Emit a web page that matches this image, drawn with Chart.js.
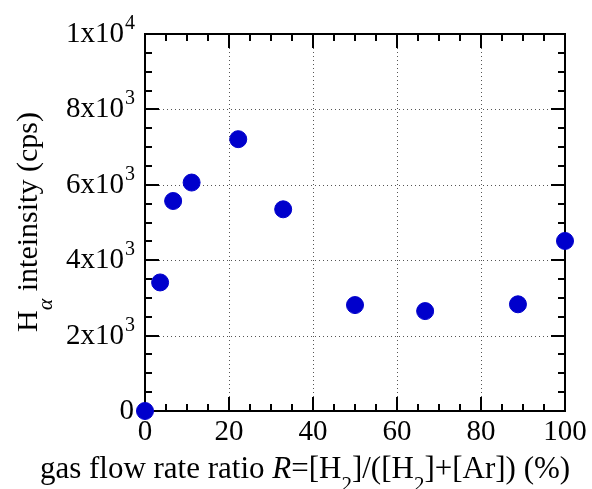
<!DOCTYPE html>
<html>
<head>
<meta charset="utf-8">
<script src="https://cdn.jsdelivr.net/npm/chart.js@4/dist/chart.umd.min.js"></script>
<style>
  html, body { margin: 0; padding: 0; background: #fff; }
  #wrap { width: 592px; height: 489px; }
</style>
</head>
<body>
<div id="wrap"><canvas id="myChart" width="592" height="489"></canvas></div>
<script>
// gas flow rate ratio R (%)
const ratioValues = [0, 3.6, 6.7, 11.1, 22.2, 32.9, 50, 66.7, 88.8, 100];
// H-alpha intensity (cps)
const intensityValues = [0, 3410, 5570, 6060, 7210, 5350, 2810, 2650, 2830, 4510];

const xTickValues = [0, 20, 40, 60, 80, 100];
const xTickLabels = ['0', '20', '40', '60', '80', '100'];
const yTickValues = [0, 2000, 4000, 6000, 8000, 10000];
const yTickBase = ['0', '2x10', '4x10', '6x10', '8x10', '1x10'];
const yTickExp = ['', '3', '3', '3', '3', '4'];

const FONT = "'Liberation Serif', 'Times New Roman', serif";
const MAJOR = 14, MINOR = 7;

const points = [];
for (let i = 0; i < ratioValues.length; i++) {
  points.push({x: ratioValues[i], y: intensityValues[i]});
}

// draws the frame, inward ticks and dotted grid like the original plot
const framePlugin = {
  id: 'frame',
  beforeDatasetsDraw(chart) {
    const ctx = chart.ctx;
    const a = chart.chartArea;
    const xs = chart.scales.x, ys = chart.scales.y;
    ctx.save();
    // dotted grid
    ctx.setLineDash([1, 3]);
    ctx.lineWidth = 1;
    ctx.strokeStyle = '#555';
    for (let i = 1; i < xTickValues.length - 1; i++) {
      let px = Math.round(xs.getPixelForValue(xTickValues[i])) + 0.5;
      ctx.beginPath();
      ctx.moveTo(px, a.top + MAJOR);
      ctx.lineTo(px, a.bottom - MAJOR);
      ctx.stroke();
    }
    for (let i = 1; i < yTickValues.length - 1; i++) {
      let py = Math.round(ys.getPixelForValue(yTickValues[i])) + 0.5;
      ctx.beginPath();
      ctx.moveTo(a.left + MAJOR, py);
      ctx.lineTo(a.right - MAJOR, py);
      ctx.stroke();
    }
    // ticks
    ctx.setLineDash([]);
    ctx.lineWidth = 2;
    ctx.strokeStyle = '#000';
    for (let v = 0; v <= 100; v += 5) {
      let len = (v % 20 == 0) ? MAJOR : MINOR;
      let px = Math.round(xs.getPixelForValue(v));
      ctx.beginPath();
      ctx.moveTo(px, a.bottom); ctx.lineTo(px, a.bottom - len);
      ctx.moveTo(px, a.top); ctx.lineTo(px, a.top + len);
      ctx.stroke();
    }
    for (let v = 0; v <= 10000; v += 500) {
      let len = (v % 2000 == 0) ? MAJOR : MINOR;
      let py = Math.round(ys.getPixelForValue(v));
      ctx.beginPath();
      ctx.moveTo(a.left, py); ctx.lineTo(a.left + len, py);
      ctx.moveTo(a.right, py); ctx.lineTo(a.right - len, py);
      ctx.stroke();
    }
    ctx.strokeRect(Math.round(a.left), Math.round(a.top),
      Math.round(a.right - a.left), Math.round(a.bottom - a.top));
    ctx.restore();
  },
  afterDraw(chart) {
    const ctx = chart.ctx;
    const a = chart.chartArea;
    const xs = chart.scales.x, ys = chart.scales.y;
    ctx.save();
    ctx.fillStyle = '#000';
    // x tick labels
    ctx.font = '29px ' + FONT;
    ctx.textAlign = 'center';
    ctx.textBaseline = 'alphabetic';
    for (let i = 0; i < xTickValues.length; i++) {
      ctx.fillText(xTickLabels[i], xs.getPixelForValue(xTickValues[i]), a.bottom + 29);
    }
    // y tick labels with powers of ten
    ctx.textAlign = 'left';
    const rightEdge = a.left - 11;
    for (let i = 0; i < yTickValues.length; i++) {
      let py = ys.getPixelForValue(yTickValues[i]);
      ctx.font = '20px ' + FONT;
      let ew = yTickExp[i] ? ctx.measureText(yTickExp[i]).width : 0;
      ctx.font = '29px ' + FONT;
      let bw = ctx.measureText(yTickBase[i]).width;
      ctx.fillText(yTickBase[i], rightEdge - ew - bw, py + 8);
      if (yTickExp[i]) {
        ctx.font = '20px ' + FONT;
        ctx.fillText(yTickExp[i], rightEdge - ew + 1, py - 5);
      }
    }
    // x axis title
    const parts = [
      ['gas flow rate ratio ', 'n', 0],
      ['R', 'i', 0],
      ['=[H', 'n', 0],
      ['2', 's', 13],
      [']/([H', 'n', 0],
      ['2', 's', 13],
      [']+[Ar]) (%)', 'n', 0]
    ];
    drawParts(ctx, parts, 305, a.bottom + 67, 31);
    // y axis title, rotated
    ctx.translate(37, 222);
    ctx.rotate(-Math.PI / 2);
    const yparts = [
      ['H', 'n', 0],
      ['\u03b1', 'si', 15],
      [' inteinsity (cps)', 'n', 0]
    ];
    drawParts(ctx, yparts, 0, 0, 30);
    ctx.restore();
  }
};

function partFont(kind, size) {
  if (kind == 'i') return 'italic ' + size + 'px ' + FONT;
  if (kind == 's') return Math.round(size * 0.68) + 'px ' + FONT;
  if (kind == 'si') return 'italic ' + Math.round(size * 0.72) + 'px ' + FONT;
  return size + 'px ' + FONT;
}

function drawParts(ctx, parts, cx, baseY, size) {
  ctx.textAlign = 'left';
  ctx.textBaseline = 'alphabetic';
  let total = 0;
  for (let p of parts) {
    ctx.font = partFont(p[1], size);
    total += ctx.measureText(p[0]).width;
  }
  let x = cx - total / 2;
  for (let p of parts) {
    ctx.font = partFont(p[1], size);
    ctx.fillText(p[0], x, baseY + p[2]);
    x += ctx.measureText(p[0]).width;
  }
}

const config = {
  type: 'scatter',
  data: {
    datasets: [{
      label: 'H alpha intensity',
      data: points,
      backgroundColor: '#0000CC',
      borderColor: '#0000CC',
      pointRadius: 8.5,
      pointHoverRadius: 8.5,
      clip: false
    }]
  },
  options: {
    responsive: false,
    animation: false,
    events: [],
    layout: { padding: { top: 34, right: 27, left: 0, bottom: 0 } },
    plugins: {
      legend: { display: false },
      tooltip: { enabled: false }
    },
    scales: {
      x: {
        type: 'linear',
        min: 0, max: 100,
        ticks: { display: false },
        grid: { display: false },
        border: { display: false },
        afterFit(scale) { scale.height = 78; }
      },
      y: {
        type: 'linear',
        min: 0, max: 10000,
        ticks: { display: false },
        grid: { display: false },
        border: { display: false },
        afterFit(scale) { scale.width = 145; }
      }
    }
  },
  plugins: [framePlugin]
};

const myChart = new Chart(document.getElementById('myChart'), config);
</script>
</body>
</html>
